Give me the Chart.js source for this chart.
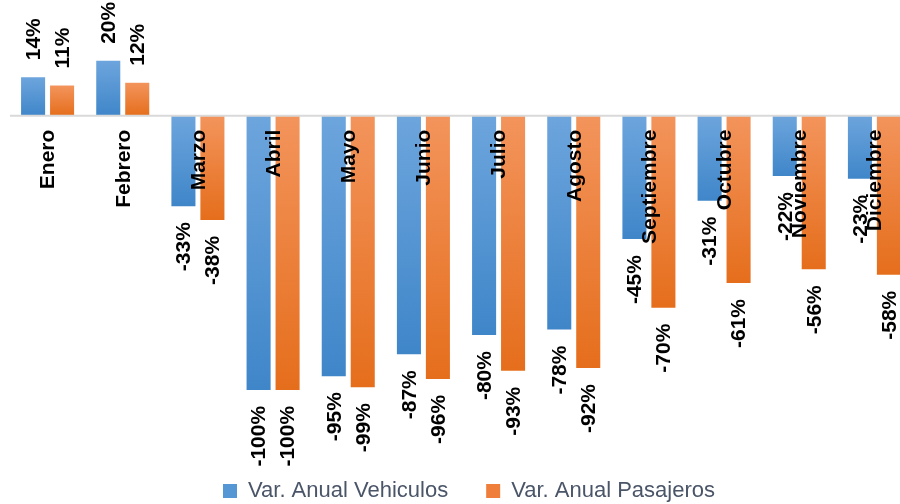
<!DOCTYPE html>
<html>
<head>
<meta charset="utf-8">
<script src="https://cdn.jsdelivr.net/npm/chart.js@4.4.1/dist/chart.umd.min.js"></script>
<style>
    html, body { margin: 0; padding: 0; background: #fff; overflow: hidden; }
    #wrap { width: 912px; height: 504px; position: relative; }
</style>
</head>
<body>
<div id="wrap"><canvas id="chart"></canvas></div>
<script>
// meses y variaciones anuales (%)
const meses = ['Enero', 'Febrero', 'Marzo', 'Abril', 'Mayo', 'Junio', 'Julio', 'Agosto', 'Septiembre', 'Octubre', 'Noviembre', 'Diciembre'];
const varVehiculos = [14, 20, -33, -100, -95, -87, -80, -78, -45, -31, -22, -23];
const varPasajeros = [11, 12, -38, -100, -99, -96, -93, -92, -70, -61, -56, -58];
const seriesNames = ['Var. Anual Vehiculos', 'Var. Anual Pasajeros'];

const blue = { top: '#6da5dd', bottom: '#3f86c9', flat: '#5596d4' };
const orange = { top: '#f3945c', bottom: '#e56e1c', flat: '#ee7e3a' };

const LABEL_FONT = 'bold 21px "Liberation Sans", Arial, sans-serif';

// degradado por barra, de arriba (claro) a abajo (oscuro)
const barGradient = (colors) => (ctx) => {
    const chart = ctx.chart;
    const y = chart.scales.y;
    if (!chart.chartArea || ctx.type !== 'data') return colors.flat;
    const v = ctx.raw;
    const y0 = y.getPixelForValue(0);
    const y1 = y.getPixelForValue(v);
    const top = Math.min(y0, y1), bottom = Math.max(y0, y1);
    if (!isFinite(top) || bottom - top < 1) return colors.flat;
    const g = chart.ctx.createLinearGradient(0, top, 0, bottom);
    g.addColorStop(0, colors.top);
    g.addColorStop(1, colors.bottom);
    return g;
};

const labelsPlugin = {
    id: 'rotatedLabels',
    afterLayout(chart) {
        // la leyenda va un poco a la derecha, como en el original
        if (chart.legend) {
            chart.legend.left += 8;
            chart.legend.right += 8;
        }
    },
    afterDatasetsDraw(chart) {
        const c = chart.ctx;
        const y0 = chart.scales.y.getPixelForValue(0);

        // línea del cero
        c.save();
        c.strokeStyle = '#d9d9d9';
        c.lineWidth = 2;
        c.beginPath();
        c.moveTo(chart.chartArea.left, y0);
        c.lineTo(chart.chartArea.right, y0);
        c.stroke();
        c.restore();

        c.save();
        c.font = LABEL_FONT;
        c.fillStyle = '#000';
        c.textBaseline = 'middle';

        // etiquetas de valor
        chart.data.datasets.forEach((ds, di) => {
            chart.getDatasetMeta(di).data.forEach((bar, i) => {
                const v = ds.data[i];
                c.save();
                if (v >= 0) {
                    c.translate(bar.x, bar.y - 17);
                    c.rotate(-Math.PI / 2);
                    c.textAlign = 'left';
                } else {
                    c.translate(bar.x, bar.y + 16);
                    c.rotate(-Math.PI / 2);
                    c.textAlign = 'right';
                }
                c.fillText(v + '%', 0, 1);
                c.restore();
            });
        });

        // nombres de los meses bajo el eje
        const x = chart.scales.x;
        meses.forEach((m, i) => {
            c.save();
            c.translate(x.getPixelForValue(i), y0 + 14);
            c.rotate(-Math.PI / 2);
            c.textAlign = 'right';
            c.fillText(m, 0, 1);
            c.restore();
        });
        c.restore();
    }
};

new Chart(document.getElementById('chart'), {
    type: 'bar',
    data: {
        labels: meses,
        datasets: [
            { label: seriesNames[0], data: varVehiculos, backgroundColor: barGradient(blue) },
            { label: seriesNames[1], data: varPasajeros, backgroundColor: barGradient(orange) }
        ]
    },
    options: {
        responsive: true,
        maintainAspectRatio: false,
        animation: false,
        categoryPercentage: 0.771,
        barPercentage: 0.83,
        layout: { padding: { left: 10, right: 0, top: 6, bottom: -8 } },
        scales: {
            x: { display: false, grid: { display: false } },
            y: { display: false, min: -119, max: 40, grid: { display: false } }
        },
        plugins: {
            tooltip: { enabled: false },
            legend: {
                position: 'bottom',
                labels: {
                    boxWidth: 14,
                    boxHeight: 14,
                    padding: 38,
                    color: '#4a5568',
                    font: { family: '"Liberation Sans", Arial, sans-serif', size: 22 },
                    generateLabels: (chart) => [blue, orange].map((col, i) => ({
                        text: seriesNames[i],
                        fillStyle: col.flat,
                        strokeStyle: col.flat,
                        lineWidth: 0,
                        datasetIndex: i,
                        fontColor: '#4a5568'
                    }))
                }
            }
        }
    },
    plugins: [labelsPlugin]
});
</script>
</body>
</html>
